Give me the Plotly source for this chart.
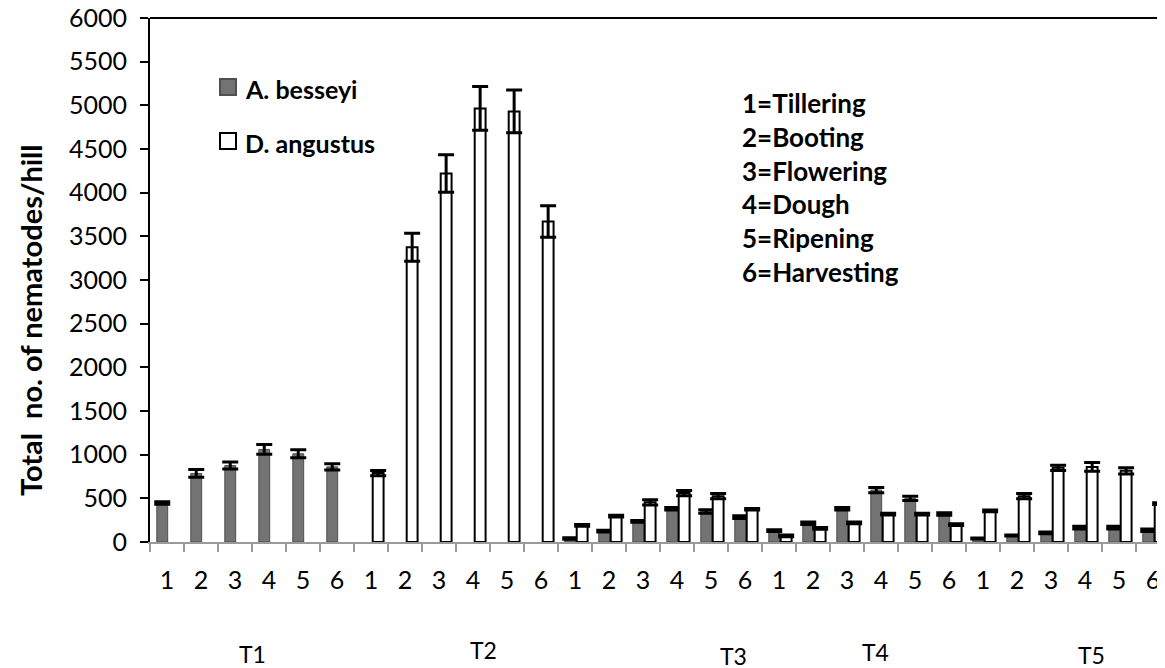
import plotly.graph_objects as go

# ---- data ----
stage_labels = ["1", "2", "3", "4", "5", "6"] * 5
treatments = ["T1", "T2", "T3", "T4", "T5"]
treatment_pos = [2.5, 9.3, 16.65, 20.85, 27.2]      # label anchors (category index)
treatment_ypix = [654, 650, 656, 652, 655]          # vertical placement of the group labels

a_besseyi = [446, 785, 875, 1060, 1010, 860,
             None, None, None, None, None, None,
             40, 125, 235, 380, 350, 285,
             130, 215, 380, 595, 500, 320,
             40, 75, 105, 165, 165, 135]
a_besseyi_err = [15, 45, 40, 55, 45, 35,
                 None, None, None, None, None, None,
                 8, 10, 10, 15, 20, 15,
                 10, 15, 15, 30, 25, 15,
                 5, 5, 10, 15, 15, 15]
d_angustus = [None, None, None, None, None, None,
              790, 3375, 4220, 4965, 4930, 3670,
              190, 295, 455, 560, 525, 375,
              70, 155, 220, 320, 320, 200,
              355, 525, 850, 860, 815, 440]
d_angustus_err = [None, None, None, None, None, None,
                  30, 160, 215, 250, 245, 180,
                  10, 10, 30, 30, 30, 10,
                  10, 10, 10, 10, 10, 10,
                  10, 30, 30, 50, 35, 10]
stage_names = ["1=Tillering", "2=Booting", "3=Flowering", "4=Dough", "5=Ripening", "6=Harvesting"]
series_names = ["A. besseyi", "D. angustus"]

x = list(range(len(stage_labels)))

W, H = 1165, 668
L, T, B, R = 142, 10, 134, 3
plot_h = H - T - B
plot_w = W - L - R
FONT = "Lato"
GRAY = "#737373"


def px(sx):   # page x -> paper x (page has an 8px body margin)
    return (sx - 8 - L) / plot_w


def py(sy):   # page y -> paper y
    return (H - B - (sy - 8)) / plot_h


fig = go.Figure()
fig.add_trace(go.Bar(
    x=x, y=a_besseyi, name=series_names[0],
    width=0.32, offset=-0.30,
    marker=dict(color=GRAY, line=dict(color="#4f4f4f", width=1)),
    error_y=dict(type="data", array=a_besseyi_err, color="black", thickness=3, width=8),
))
fig.add_trace(go.Bar(
    x=x, y=d_angustus, name=series_names[1],
    width=0.32, offset=0.05,
    marker=dict(color="white", line=dict(color="black", width=2)),
    error_y=dict(type="data", array=d_angustus_err, color="black", thickness=3, width=8),
))

# legend (drawn by hand to match square size)
legend_fill = [GRAY, "white"]
legend_line = ["#4f4f4f", "black"]
legend_y = [87, 141]
for name, fc, lc, yy in zip(series_names, legend_fill, legend_line, legend_y):
    fig.add_shape(type="rect", xref="paper", yref="paper",
                  x0=px(220), x1=px(236), y0=py(yy - 8), y1=py(yy + 8),
                  fillcolor=fc, line=dict(color=lc, width=2))
    fig.add_annotation(x=px(243), xref="paper", y=py(yy + 2), yref="paper",
                       text="<b>" + name + "</b>", showarrow=False,
                       xanchor="left", yanchor="middle",
                       font=dict(family=FONT, size=25, color="black"))

# group labels T1..T5
for t, p, yp in zip(treatments, treatment_pos, treatment_ypix):
    fig.add_annotation(x=p, xref="x", y=py(yp), yref="paper",
                       text=t, showarrow=False, font=dict(family=FONT, size=23, color="black"),
                       xanchor="center", yanchor="middle")

# stage key
fig.add_annotation(x=px(740), xref="paper", y=py(85), yref="paper",
                   text="<b>" + "<br>".join(stage_names) + "</b>", align="left",
                   showarrow=False, xanchor="left", yanchor="top",
                   font=dict(family=FONT, size=26, color="black"))

# y-axis title
fig.add_annotation(x=px(30), xref="paper", y=py(320), yref="paper",
                   text="<b>Total\u00a0 no. of nematodes/hill</b>", textangle=-90,
                   showarrow=False, xanchor="center", yanchor="middle",
                   font=dict(family=FONT, size=29, color="black"))

# top border line
fig.add_shape(type="line", xref="paper", yref="paper", x0=0, x1=1, y0=1, y1=1,
              line=dict(color="black", width=2))

fig.update_layout(
    width=W, height=H,
    margin=dict(l=L, r=R, t=T, b=B, pad=0, autoexpand=False),
    paper_bgcolor="white", plot_bgcolor="white",
    barmode="overlay",
    showlegend=False,
    font=dict(family=FONT, color="black"),
)
fig.update_xaxes(
    range=[-0.5, 29.5], automargin=False,
    tickmode="array", tickvals=x, ticktext=stage_labels,
    ticks="", ticklabelstandoff=15,
    tickfont=dict(family=FONT, size=25, color="black"),
    showline=True, linecolor="#9a9a9a", linewidth=2,
    showgrid=False, zeroline=False,
    minor=dict(tickmode="array", tickvals=[i - 0.5 for i in x], ticks="outside",
               ticklen=8, tickwidth=2, tickcolor="#9a9a9a", showgrid=False),
)
fig.update_yaxes(
    range=[0, 6000], tickmode="linear", tick0=0, dtick=500, automargin=False,
    ticks="outside", ticklen=8, tickwidth=2, tickcolor="black",
    ticklabelstandoff=8, ticklabeloverflow="allow",
    tickfont=dict(family=FONT, size=25, color="black"),
    showline=True, linecolor="black", linewidth=2,
    showgrid=False, zeroline=False,
)

fig.write_html("out.html")
